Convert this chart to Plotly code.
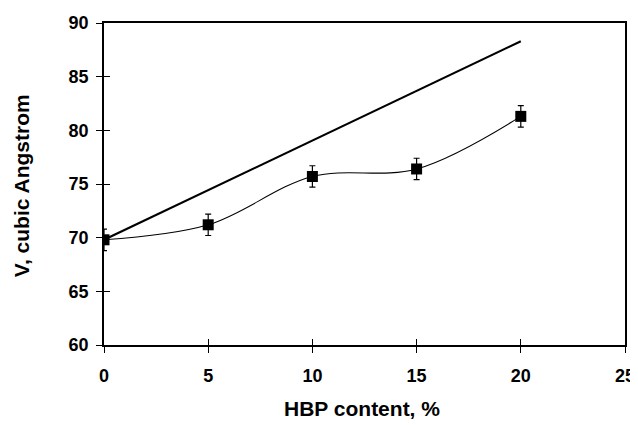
import plotly.graph_objects as go

hbp = [0, 5, 10, 15, 20]
volume = [69.8, 71.2, 75.7, 76.4, 81.3]
err = [1.0, 1.0, 1.0, 1.0, 1.0]
ideal_x = [0, 20]
ideal_y = [69.8, 88.3]
xticks = [0, 5, 10, 15, 20, 25]
yticks = [60, 65, 70, 75, 80, 85, 90]

font = "Liberation Sans, Arial, sans-serif"
tickfont = dict(family=font, size=18, color="black", weight="bold")

fig = go.Figure()
fig.add_trace(go.Scatter(x=ideal_x, y=ideal_y, mode="lines",
                         line=dict(color="black", width=2.2), showlegend=False))
fig.add_trace(go.Scatter(x=hbp, y=volume, mode="lines+markers",
                         line=dict(color="black", width=1.1, shape="spline", smoothing=1.0),
                         marker=dict(symbol="square", size=11, color="black"),
                         error_y=dict(type="data", array=err, color="black", thickness=1.2, width=3),
                         showlegend=False))
fig.add_trace(go.Scatter(x=[0], y=[60], xaxis="x2", yaxis="y2", mode="markers",
                         marker=dict(opacity=0), showlegend=False, hoverinfo="skip"))

axis_common = dict(showline=True, linecolor="black", linewidth=1.6, mirror=True,
                   ticks="outside", ticklen=6, tickwidth=1.3, tickcolor="black",
                   showgrid=False, zeroline=False, automargin=False,
                   tickfont=tickfont)
inner_common = dict(ticks="inside", ticklen=6, tickwidth=1.3,
                    tickcolor="black", showticklabels=False, showgrid=False,
                    zeroline=False, automargin=False)

# page body has an 8px default margin; compensate in size and margins
fig.update_layout(
    width=630, height=417,
    margin=dict(l=96, r=13, t=15, b=80, autoexpand=False),
    paper_bgcolor="white", plot_bgcolor="white",
    xaxis=dict(range=[0, 25], tickvals=xticks, ticklabelstandoff=8, **axis_common),
    yaxis=dict(range=[60, 90], tickvals=yticks, ticklabelstandoff=4, **axis_common),
    xaxis2=dict(range=[0, 25], tickvals=xticks, side="bottom", overlaying="x", **inner_common),
    yaxis2=dict(range=[60, 90], tickvals=yticks, side="left", overlaying="y", **inner_common),
    annotations=[
        dict(text="<b>HBP content, %</b>", x=0.495, y=-0.196, xref="paper", yref="paper",
             showarrow=False, xanchor="center", yanchor="middle",
             font=dict(family=font, size=21, color="black")),
        dict(text="<b>V, cubic Angstrom</b>", x=-0.157, y=0.494, xref="paper", yref="paper",
             showarrow=False, xanchor="center", yanchor="middle", textangle=-90,
             font=dict(family=font, size=21, color="black")),
    ],
)

fig.write_html("out.html")
